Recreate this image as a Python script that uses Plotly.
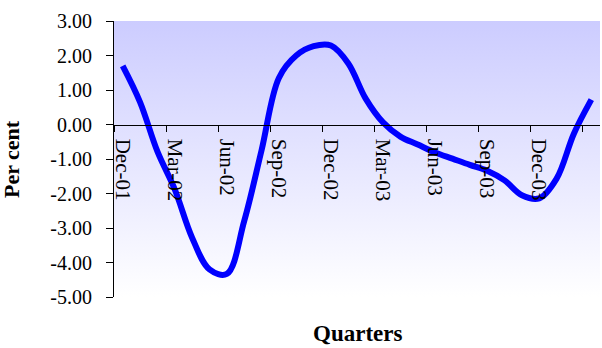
import base64
import plotly.graph_objects as go

# ---- data ----
months = ["Dec-01", "Jan-02", "Feb-02", "Mar-02", "Apr-02", "May-02", "Jun-02",
          "Jul-02", "Aug-02", "Sep-02", "Oct-02", "Nov-02", "Dec-02", "Jan-03",
          "Feb-03", "Mar-03", "Apr-03", "May-03", "Jun-03", "Jul-03", "Aug-03",
          "Sep-03", "Oct-03", "Nov-03", "Dec-03", "Jan-04", "Feb-04", "Mar-04"]
values = [1.70, 0.65, -0.78, -1.88, -3.28, -4.20, -4.33,
          -2.80, -0.75, 1.35, 2.00, 2.27, 2.29, 1.77,
          0.75, 0.06, -0.35, -0.58, -0.81, -0.99, -1.17,
          -1.34, -1.62, -2.05, -2.14, -1.57, -0.26, 0.72]
y_ticks = [-5, -4, -3, -2, -1, 0, 1, 2, 3]
y_ticktext = ["-5.00", "-4.00", "-3.00", "-2.00", "-1.00", "0.00", "1.00", "2.00", "3.00"]
label_step = 3
y_title = "Per cent"
x_title = "Quarters"

x_idx = list(range(len(months)))
label_idx = x_idx[::label_step]
label_text = [months[i] for i in label_idx]
y_min, y_max = y_ticks[0], y_ticks[-1]

FONT = "Times New Roman, Liberation Serif, serif"

svg = ('<svg xmlns="http://www.w3.org/2000/svg" width="10" height="100" preserveAspectRatio="none">'
       '<defs><linearGradient id="g" x1="0" y1="0" x2="0" y2="1">'
       '<stop offset="0" stop-color="#ccccff"/><stop offset="1" stop-color="#ffffff"/>'
       '</linearGradient></defs><rect width="10" height="100" fill="url(#g)"/></svg>')
bg_src = "data:image/svg+xml;base64," + base64.b64encode(svg.encode()).decode()

fig = go.Figure()
fig.add_trace(go.Scatter(
    x=x_idx, y=values, mode="lines",
    line=dict(color="#0000ff", width=6, shape="spline", smoothing=1),
    hoverinfo="skip", showlegend=False,
))

fig.update_layout(
    template="none",
    width=602, height=348,
    margin=dict(l=114, r=2, t=21, b=51),
    paper_bgcolor="white",
    plot_bgcolor="rgba(0,0,0,0)",
    font=dict(family=FONT, size=19, color="black"),
    showlegend=False,
    images=[dict(source=bg_src, xref="paper", yref="paper", x=0, y=1,
                 sizex=1, sizey=1, sizing="stretch", layer="below",
                 xanchor="left", yanchor="top")],
    xaxis=dict(
        range=[-0.5, len(months) - 0.5],
        anchor="free", position=(0 - y_min) / (y_max - y_min),
        showline=True, linecolor="black", linewidth=1,
        showgrid=False, zeroline=False, automargin=False,
        tickmode="array", tickvals=label_idx, ticktext=label_text,
        ticks="", tickangle=90, ticklabelstandoff=9,
        tickfont=dict(family=FONT, size=21, color="black"),
        minor=dict(tickmode="array", tickvals=[i - 0.5 for i in label_idx],
                   ticks="outside", ticklen=6, tickcolor="black", tickwidth=1,
                   showgrid=False),
    ),
    yaxis=dict(
        range=[y_min, y_max],
        showline=True, linecolor="black", linewidth=1,
        showgrid=False, zeroline=False, automargin=False,
        tickmode="array", tickvals=y_ticks, ticktext=y_ticktext,
        ticks="outside", ticklen=7, tickcolor="black", tickwidth=1,
        ticklabelstandoff=10,
        tickfont=dict(family=FONT, size=20, color="black"),
    ),
    annotations=[
        dict(text="<b>" + y_title + "</b>", xref="paper", yref="paper",
             x=0, y=0.5, xshift=-103, xanchor="center", yanchor="middle",
             textangle=-90, showarrow=False,
             font=dict(family=FONT, size=22, color="black")),
        dict(text="<b>" + x_title + "</b>", xref="paper", yref="paper",
             x=0.5, y=0, yshift=-22, xanchor="center", yanchor="top",
             showarrow=False,
             font=dict(family=FONT, size=23, color="black")),
    ],
)

fig.write_html("out.html",
               config={"displayModeBar": False},
               post_script="document.body.style.margin='0';"
                           "document.body.style.overflow='hidden';")
